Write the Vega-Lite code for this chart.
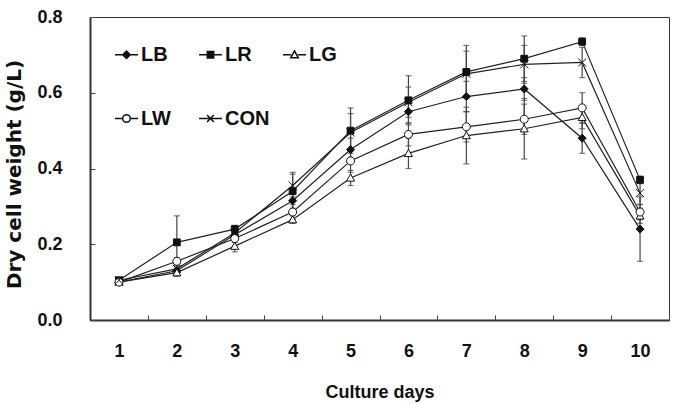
{
  "$schema": "https://vega.github.io/schema/vega-lite/v6.json",
  "width": 579,
  "height": 303,
  "autosize": {"type": "none"},
  "padding": {"left": 90, "top": 17, "right": 4, "bottom": 84},
  "background": "white",
  "view": {"stroke": "#333", "strokeWidth": 1},
  "config": {
    "font": "Liberation Sans",
    "axis": {"grid": false, "domainColor": "#333", "domainWidth": 2, "tickColor": "#444", "tickWidth": 1, "labelFont": "Liberation Sans", "labelFontWeight": "bold", "labelFontSize": 18, "labelColor": "#111", "titleFont": "Liberation Sans", "titleFontWeight": "bold", "titleFontSize": 18, "titleColor": "#111"}
  },
  "data": {"values": [
    {"day": 1, "series": "LB", "value": 0.100, "err": 0.005},
    {"day": 2, "series": "LB", "value": 0.130, "err": 0.010},
    {"day": 3, "series": "LB", "value": 0.225, "err": 0.010},
    {"day": 4, "series": "LB", "value": 0.315, "err": 0.020},
    {"day": 5, "series": "LB", "value": 0.450, "err": 0.030},
    {"day": 6, "series": "LB", "value": 0.550, "err": 0.030},
    {"day": 7, "series": "LB", "value": 0.590, "err": 0.040},
    {"day": 8, "series": "LB", "value": 0.610, "err": 0.030},
    {"day": 9, "series": "LB", "value": 0.480, "err": 0.040},
    {"day": 10, "series": "LB", "value": 0.240, "err": 0.085},
    {"day": 1, "series": "LR", "value": 0.105, "err": 0.005},
    {"day": 2, "series": "LR", "value": 0.205, "err": 0.070},
    {"day": 3, "series": "LR", "value": 0.240, "err": 0.010},
    {"day": 4, "series": "LR", "value": 0.340, "err": 0.050},
    {"day": 5, "series": "LR", "value": 0.500, "err": 0.060},
    {"day": 6, "series": "LR", "value": 0.580, "err": 0.065},
    {"day": 7, "series": "LR", "value": 0.655, "err": 0.070},
    {"day": 8, "series": "LR", "value": 0.690, "err": 0.060},
    {"day": 9, "series": "LR", "value": 0.735, "err": 0.010},
    {"day": 10, "series": "LR", "value": 0.370, "err": 0.010},
    {"day": 1, "series": "LG", "value": 0.100, "err": 0.005},
    {"day": 2, "series": "LG", "value": 0.125, "err": 0.010},
    {"day": 3, "series": "LG", "value": 0.195, "err": 0.015},
    {"day": 4, "series": "LG", "value": 0.265, "err": 0.010},
    {"day": 5, "series": "LG", "value": 0.375, "err": 0.020},
    {"day": 6, "series": "LG", "value": 0.440, "err": 0.040},
    {"day": 7, "series": "LG", "value": 0.487, "err": 0.075},
    {"day": 8, "series": "LG", "value": 0.505, "err": 0.080},
    {"day": 9, "series": "LG", "value": 0.535, "err": 0.030},
    {"day": 10, "series": "LG", "value": 0.275, "err": 0.020},
    {"day": 1, "series": "LW", "value": 0.100, "err": 0.005},
    {"day": 2, "series": "LW", "value": 0.155, "err": 0.010},
    {"day": 3, "series": "LW", "value": 0.215, "err": 0.010},
    {"day": 4, "series": "LW", "value": 0.285, "err": 0.020},
    {"day": 5, "series": "LW", "value": 0.420, "err": 0.030},
    {"day": 6, "series": "LW", "value": 0.490, "err": 0.030},
    {"day": 7, "series": "LW", "value": 0.510, "err": 0.040},
    {"day": 8, "series": "LW", "value": 0.530, "err": 0.040},
    {"day": 9, "series": "LW", "value": 0.560, "err": 0.040},
    {"day": 10, "series": "LW", "value": 0.285, "err": 0.020},
    {"day": 1, "series": "CON", "value": 0.105, "err": 0.005},
    {"day": 2, "series": "CON", "value": 0.135, "err": 0.010},
    {"day": 3, "series": "CON", "value": 0.230, "err": 0.010},
    {"day": 4, "series": "CON", "value": 0.355, "err": 0.030},
    {"day": 5, "series": "CON", "value": 0.495, "err": 0.050},
    {"day": 6, "series": "CON", "value": 0.575, "err": 0.040},
    {"day": 7, "series": "CON", "value": 0.650, "err": 0.060},
    {"day": 8, "series": "CON", "value": 0.675, "err": 0.050},
    {"day": 9, "series": "CON", "value": 0.680, "err": 0.040},
    {"day": 10, "series": "CON", "value": 0.335, "err": 0.030}
  ]},
  "encoding": {
    "x": {"field": "day", "type": "ordinal", "scale": {"paddingInner": 0, "paddingOuter": 0},
      "axis": {"title": "Culture days", "labelAngle": 0, "tickBand": "extent", "tickSize": -5, "labelPadding": 27, "titlePadding": 23}},
    "y": {"field": "value", "type": "quantitative", "scale": {"domain": [0, 0.8], "nice": false},
      "axis": {"title": "Dry cell weight (g/L)", "values": [0, 0.2, 0.4, 0.6, 0.8], "format": ".1f", "tickSize": -5, "labelPadding": 33, "titleFont": "DejaVu Sans", "titleFontSize": 20, "titlePadding": 12, "titleY": 157}}
  },
  "layer": [
    {"mark": {"type": "line", "color": "#222", "strokeWidth": 1.2}, "encoding": {"detail": {"field": "series"}}},
    {"mark": {"type": "errorbar", "ticks": {"size": 6}, "color": "#444", "thickness": 1.2}, "encoding": {"yError": {"field": "err"}, "detail": {"field": "series"}}},
    {"mark": {"type": "point", "filled": true, "size": 64, "stroke": "#111", "strokeWidth": 1, "opacity": 1},
      "encoding": {
        "shape": {"field": "series", "type": "nominal", "legend": null, "scale": {"domain": ["LB", "LR", "LG", "LW", "CON"], "range": ["M0,-1L1,0L0,1L-1,0Z", "M-0.85,-0.85H0.85V0.85H-0.85Z", "M0,-1L1,0.8H-1Z", "M1,0A1,1 0 1,1 -1,0A1,1 0 1,1 1,0Z", "M-1,-1L1,1M-1,1L1,-1"]}},
        "fill": {"field": "series", "type": "nominal", "legend": null, "scale": {"domain": ["LB", "LR", "LG", "LW", "CON"], "range": ["#111", "#111", "#fff", "#fff", "#111"]}}
      }},
    {"mark": {"type": "point", "filled": true, "opacity": 0},
      "encoding": {
        "shape": {"field": "series", "type": "nominal", "scale": {"domain": ["LB", "LR", "LG", "LW", "CON"], "range": ["M-1,0H1M0,-0.33L0.33,0L0,0.33L-0.33,0Z", "M-1,0H1M-0.28,-0.28H0.28V0.28H-0.28Z", "M-1,0H-0.3M0.3,0H1M0,-0.33L0.33,0.27H-0.33Z", "M-1,0H-0.33M0.33,0H1M0.33,0A0.33,0.33 0 1,1 -0.33,0A0.33,0.33 0 1,1 0.33,0Z", "M-1,0H1M-0.3,-0.3L0.3,0.3M-0.3,0.3L0.3,-0.3"]},
          "legend": {"title": null, "orient": "none", "legendX": 24, "legendY": 25, "direction": "horizontal", "columns": 3, "gridAlign": "all", "columnPadding": 10, "rowPadding": 41, "padding": 0, "symbolSize": 529, "symbolStrokeWidth": 1.5, "symbolStrokeColor": "#111", "symbolOpacity": 1, "labelFont": "Liberation Sans", "labelFontWeight": "bold", "labelFontSize": 20, "labelColor": "#111", "labelOffset": 2,
            "encode": {"symbols": {"update": {"stroke": {"value": "#111"}, "strokeWidth": {"value": 1.5}, "opacity": {"value": 1}, "strokeOpacity": {"value": 1}}}}}},
        "fill": {"field": "series", "type": "nominal", "scale": {"domain": ["LB", "LR", "LG", "LW", "CON"], "range": ["#111", "#111", "#fff", "#fff", "#111"]},
          "legend": {"title": null, "orient": "none", "legendX": 24, "legendY": 25, "direction": "horizontal", "columns": 3, "gridAlign": "all", "columnPadding": 10, "rowPadding": 41, "padding": 0, "symbolSize": 529, "symbolStrokeWidth": 1.5, "symbolStrokeColor": "#111", "symbolOpacity": 1, "labelFont": "Liberation Sans", "labelFontWeight": "bold", "labelFontSize": 20, "labelColor": "#111", "labelOffset": 2,
            "encode": {"symbols": {"update": {"stroke": {"value": "#111"}, "strokeWidth": {"value": 1.5}, "opacity": {"value": 1}, "strokeOpacity": {"value": 1}}}}}}
      }}
  ],
  "resolve": {"scale": {"shape": "independent", "fill": "independent"}}
}
